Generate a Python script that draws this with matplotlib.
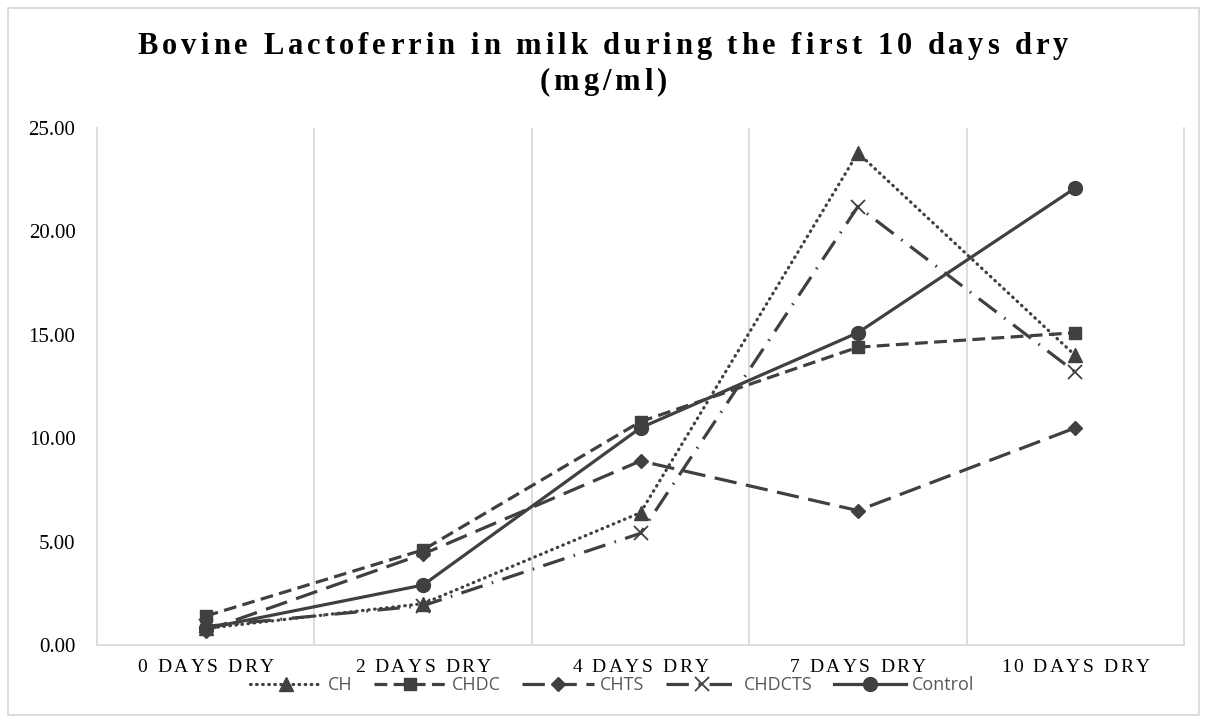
import matplotlib
matplotlib.use("Agg")
import matplotlib.pyplot as plt
from matplotlib.font_manager import FontProperties
from matplotlib.patches import Rectangle

# data
categories = ["0 DAYS DRY", "2 DAYS DRY", "4 DAYS DRY", "7 DAYS DRY", "10 DAYS DRY"]
ch = [0.8, 2.0, 6.4, 23.8, 14.0]
chdc = [1.4, 4.6, 10.8, 14.4, 15.1]
chts = [0.7, 4.4, 8.9, 6.5, 10.5]
chdcts = [0.9, 1.9, 5.4, 21.2, 13.2]
control = [0.8, 2.9, 10.5, 15.1, 22.1]
series_names = ["CH", "CHDC", "CHTS", "CHDCTS", "Control"]
title_lines = ["Bovine Lactoferrin in milk during the first 10 days dry", "(mg/ml)"]

W, H = 1206, 720
dark = "#404040"
grid = "#d9d9d9"

fig = plt.figure(figsize=(W / 100, H / 100), dpi=100)
ax = fig.add_axes([97 / W, 1 - 645 / H, (1184 - 97) / W, (645 - 128) / H])
renderer = fig.canvas.get_renderer()


def spaced_text(xpix, ypix, s, spacing, fp, color="black"):
    # draw text char by char with extra letter spacing, centred at (xpix, ypix)
    widths = []
    for c in s:
        w, h, d = renderer.get_text_width_height_descent(c, fp, ismath=False)
        if c == " ":
            w = renderer.get_text_width_height_descent("a a", fp, False)[0] - \
                renderer.get_text_width_height_descent("aa", fp, False)[0]
        widths.append(w)
    total = sum(widths) + spacing * (len(s) - 1)
    x = xpix - total / 2
    for c, w in zip(s, widths):
        fig.text(x / W, 1 - ypix / H, c, fontproperties=fp, color=color,
                 ha="left", va="center")
        x += w + spacing


x = list(range(len(categories)))
lw = 2.3
ax.plot(x, ch, color=dark, lw=lw, ls=(0, (0.2, 1.7)), dash_capstyle="round",
        marker="^", ms=10, label=series_names[0])
ax.plot(x, chdc, color=dark, lw=lw, ls=(0, (4, 2)),
        marker="s", ms=9, label=series_names[1])
ax.plot(x, chts, color=dark, lw=lw, ls=(0, (7, 3)),
        marker="D", ms=7.5, label=series_names[2])
ax.plot(x, chdcts, color=dark, lw=lw, ls=(0, (7, 3, 0.5, 3)),
        marker="x", ms=10, mew=1.3, label=series_names[3])
ax.plot(x, control, color=dark, lw=lw, ls="-",
        marker="o", ms=10, label=series_names[4])

ax.set_xlim(-0.5, len(categories) - 0.5)
ax.set_ylim(0, 25)
ax.set_yticks([0, 5, 10, 15, 20, 25])
ax.set_yticklabels([f"{v:.2f}" for v in [0, 5, 10, 15, 20, 25]],
                   fontfamily="Liberation Serif", fontsize=15)
ax.tick_params(axis="y", length=0, pad=15.5)
ax.set_xticks([])
for xb in [i + 0.5 for i in range(len(categories) - 1)]:
    ax.axvline(xb, color=grid, lw=1.3, zorder=0)
for side in ["left", "right", "bottom"]:
    ax.spines[side].set_color(grid)
    ax.spines[side].set_linewidth(1.3)
ax.spines["top"].set_visible(False)

# x category labels with letter spacing
fp_x = FontProperties(family="Liberation Serif", size=14)
for i, lab in enumerate(categories):
    xpix = 97 + (i + 0.5) * (1184 - 97) / len(categories)
    spaced_text(xpix, 668, lab, 2.5, fp_x)

# title with letter spacing
fp_t = FontProperties(family="Liberation Serif", size=22, weight="bold")
spaced_text(603, 46, title_lines[0], 4.0, fp_t)
spaced_text(603, 82, title_lines[1], 4.0, fp_t)

leg = fig.legend(loc="center", bbox_to_anchor=(612 / W, 1 - 685 / H), ncol=5,
                 frameon=False, handlelength=4.0, handletextpad=0.3,
                 columnspacing=1.2, prop={"family": "Open Sans", "size": 13})
for t in leg.get_texts():
    t.set_color("#595959")

fig.patches.append(Rectangle((8 / W, 5 / H), (1199 - 8) / W, (712 - 5) / H,
                             transform=fig.transFigure, fill=False,
                             edgecolor=grid, lw=1.3))

fig.savefig("out.png", dpi=100)
